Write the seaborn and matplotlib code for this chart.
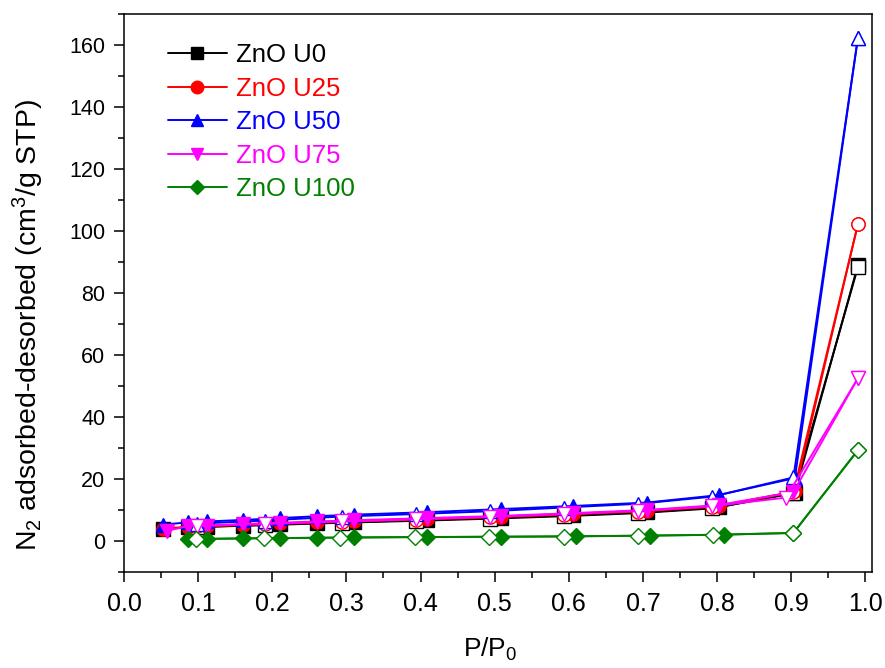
import numpy as np
import pandas as pd
import matplotlib
matplotlib.use("Agg")
import matplotlib.pyplot as plt
from matplotlib.ticker import MultipleLocator, FormatStrFormatter
from matplotlib.lines import Line2D
import seaborn as sns

sns.set_theme(style="white")
plt.rcParams["font.family"] = ["Liberation Sans", "DejaVu Sans"]
plt.rcParams["mathtext.fontset"] = "custom"
plt.rcParams["mathtext.rm"] = "Liberation Sans"
plt.rcParams["mathtext.it"] = "Liberation Sans:italic"
plt.rcParams["text.color"] = "black"
plt.rcParams["axes.labelcolor"] = "black"
plt.rcParams["xtick.color"] = "black"
plt.rcParams["ytick.color"] = "black"

# Sample names and colours
samples = ["ZnO U0", "ZnO U25", "ZnO U50", "ZnO U75", "ZnO U100"]
colors = ["#000000", "#ff0000", "#0000ff", "#ff00ff", "#008000"]
markers = ["s", "o", "^", "v", "D"]

# Relative pressure P/P0, adsorption branch
p_ads = [0.052, 0.086, 0.112, 0.161, 0.211, 0.260, 0.310, 0.409, 0.508,
         0.606, 0.705, 0.802, 0.905, 0.990]
p_ads_u75 = [0.058, 0.086, 0.112, 0.161, 0.211, 0.260, 0.310, 0.409, 0.508,
             0.606, 0.705, 0.802, 0.903, 0.990]
p_ads_u100 = [0.087, 0.112, 0.161, 0.211, 0.260, 0.310, 0.409, 0.508,
              0.610, 0.710, 0.809, 0.903, 0.990]

# Relative pressure P/P0, desorption branch
p_des = [0.990, 0.903, 0.793, 0.694, 0.593, 0.494, 0.394, 0.294, 0.190, 0.099]
p_des_u75 = [0.990, 0.893, 0.793, 0.694, 0.593, 0.494, 0.394, 0.294, 0.190, 0.099]
p_des_u100 = [0.990, 0.903, 0.795, 0.694, 0.593, 0.493, 0.393, 0.291, 0.189, 0.097]

# Adsorbed volume (cm3/g STP)
ads_u0 = [3.8, 4.4, 4.6, 5.0, 5.4, 5.8, 6.1, 6.8, 7.5, 8.3, 9.3, 10.9, 15.6, 89.0]
ads_u25 = [4.0, 4.6, 4.8, 5.3, 5.7, 6.1, 6.5, 7.2, 7.9, 8.8, 9.8, 11.3, 16.0, 102.2]
ads_u50 = [5.3, 6.0, 6.3, 6.8, 7.4, 8.0, 8.5, 9.3, 10.3, 11.3, 12.4, 14.8, 20.3, 162.3]
ads_u75 = [3.3, 4.8, 5.0, 5.5, 5.9, 6.3, 6.7, 7.4, 8.1, 9.0, 10.0, 11.6, 15.8, 52.5]
ads_u100 = [0.6, 0.7, 0.85, 0.95, 1.05, 1.15, 1.3, 1.4, 1.55, 1.75, 2.05, 2.6, 29.3]

# Desorbed volume (cm3/g STP)
des_u0 = [88.3, 15.4, 10.5, 9.0, 8.0, 7.2, 6.5, 5.9, 5.1, 4.5]
des_u25 = [102.2, 15.8, 11.0, 9.5, 8.5, 7.6, 6.9, 6.2, 5.4, 4.7]
des_u50 = [162.3, 20.5, 14.3, 12.0, 10.8, 9.6, 8.7, 7.9, 6.6, 5.6]
des_u75 = [52.5, 14.0, 11.2, 9.7, 8.7, 7.8, 7.0, 6.3, 5.5, 4.9]
des_u100 = [29.3, 2.6, 2.0, 1.7, 1.45, 1.35, 1.25, 1.1, 0.9, 0.65]

ads_x = [p_ads, p_ads, p_ads, p_ads_u75, p_ads_u100]
ads_y = [ads_u0, ads_u25, ads_u50, ads_u75, ads_u100]
des_x = [p_des, p_des, p_des, p_des_u75, p_des_u100]
des_y = [des_u0, des_u25, des_u50, des_u75, des_u100]

fig = plt.figure(figsize=(8.85, 6.68), dpi=100)
ax = fig.add_axes([0.1401, 0.1437, 0.8452, 0.8353])

ms = 9.5
lw = 1.4
for name, c, m, xa, ya, xd, yd in zip(samples, colors, markers, ads_x, ads_y, des_x, des_y):
    ms_i = ms * 0.85 if m == "D" else ms
    df_a = pd.DataFrame({"p": xa, "v": ya})
    df_d = pd.DataFrame({"p": xd, "v": yd})
    sns.lineplot(data=df_a, x="p", y="v", ax=ax, sort=False, estimator=None,
                 color=c, marker=m, markersize=ms_i, markeredgecolor=c,
                 markerfacecolor=c, linewidth=lw, markeredgewidth=1.0)
    sns.lineplot(data=df_d, x="p", y="v", ax=ax, sort=False, estimator=None,
                 color=c, marker=m, markersize=ms_i, markeredgecolor=c,
                 markerfacecolor="white", linewidth=lw, markeredgewidth=1.0)

ax.set_xlim(0, 1.009)
ax.set_ylim(-10, 170)
ax.xaxis.set_major_locator(MultipleLocator(0.1))
ax.xaxis.set_minor_locator(MultipleLocator(0.05))
ax.yaxis.set_major_locator(MultipleLocator(20))
ax.yaxis.set_minor_locator(MultipleLocator(10))
ax.xaxis.set_major_formatter(FormatStrFormatter("%.1f"))

ax.tick_params(axis="both", which="major", direction="out", length=7.5, width=1.1,
               color="black", labelcolor="black", bottom=True, left=True)
ax.tick_params(axis="both", which="minor", direction="out", length=4.5, width=1.1,
               color="black", bottom=True, left=True)
ax.tick_params(axis="x", labelsize=18, pad=7)
ax.tick_params(axis="y", labelsize=15.5, pad=6)
for s in ax.spines.values():
    s.set_color("black")
    s.set_linewidth(1.1)

ax.set_xlabel(r"P/P$_0$", fontsize=19, color="black")
ax.set_ylabel(r"N$_2$ adsorbed-desorbed (cm$^3$/g STP)", fontsize=20.5, color="black")
ax.xaxis.set_label_coords(0.49, -0.114)
ax.yaxis.set_label_coords(-0.104, 0.443)

handles = []
for name, c, m in zip(samples, colors, markers):
    ms_i = ms * 0.8 if m == "D" else ms * 0.95
    handles.append(Line2D([], [], color=c, marker=m, markersize=ms_i,
                          markerfacecolor=c, markeredgecolor=c, linewidth=lw))
leg = ax.legend(handles, samples, loc="upper left", bbox_to_anchor=(0.045, 0.966),
                frameon=False, fontsize=18.5, handlelength=2.3, handletextpad=0.35,
                labelspacing=0.37, borderaxespad=0)
for t, c in zip(leg.get_texts(), colors):
    t.set_color(c)

fig.savefig("out.png", dpi=100)
